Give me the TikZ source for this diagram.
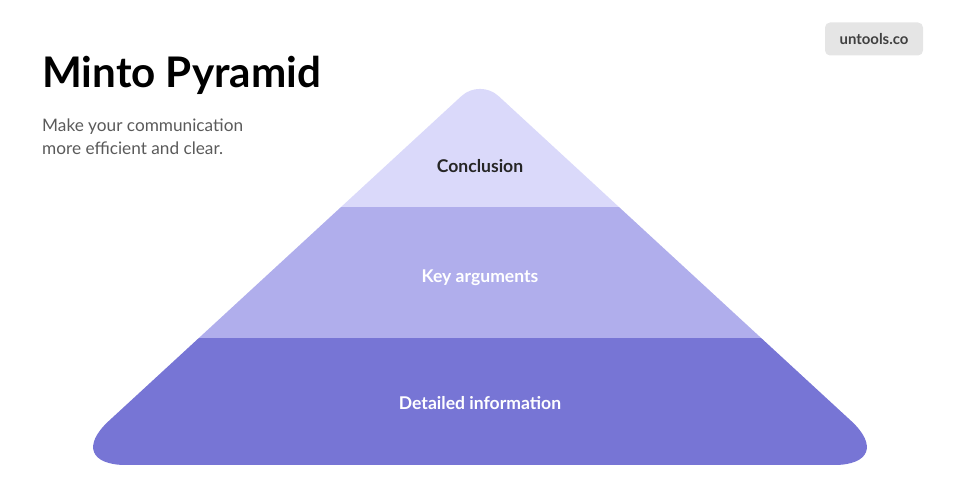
\documentclass[tikz,border=0pt]{standalone}
\usepackage{fontspec}
\setmainfont{Lato}
\usetikzlibrary{positioning}
\definecolor{topband}{HTML}{DAD9FA}
\definecolor{midband}{HTML}{B0AEEC}
\definecolor{lowband}{HTML}{7775D5}
\definecolor{subgrey}{HTML}{5A5A5A}
\definecolor{badgegrey}{HTML}{E5E5E5}
\begin{document}
\begin{tikzpicture}[x=0.02cm,y=-0.02cm]
  \tikzstyle{band} = [font=\bfseries\fontsize{10}{12}\selectfont]
  \useasboundingbox (0,0) rectangle (960,502);

  % pyramid bands
  \begin{scope}
    \clip[rounded corners=0.5cm] (480,79) [rounded corners=1.3cm] -- (899,465) -- (61,465) [rounded corners=0.5cm] -- cycle;
    \fill[lowband] (0,338) rectangle (960,470);
    \fill[midband] (0,207) rectangle (960,338);
    \fill[topband] (0,60) rectangle (960,207);
  \end{scope}

  \node (concl) [style=band, text=black!85] at (480,166) {Conclusion};
  \node (keyarg) [style=band, text=white] at (480,278) {Key arguments};
  \node (detail) [style=band, text=white] at (480,403) {Detailed information};

  % heading
  \node (title) [anchor=west, font=\bfseries\fontsize{24}{28}\selectfont] at (36,75) {Minto Pyramid};
  \node (sub) [anchor=north west, text=subgrey, align=left,
    font=\fontsize{9.8}{13}\selectfont] at (36,113) {Make your communication\\more efficient and clear.};

  % badge
  \node (badge) [fill=badgegrey, rounded corners=0.1cm, minimum width=1.96cm,
    minimum height=0.66cm, text=black!75, font=\bfseries\fontsize{8.5}{10}\selectfont]
    at (874,39) {untools.co};
\end{tikzpicture}
\end{document}
